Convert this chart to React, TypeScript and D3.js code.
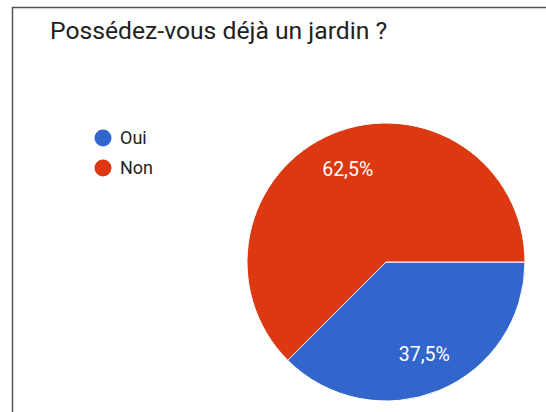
import React, { useEffect, useRef } from 'react';
import * as d3 from 'd3';

const title = 'Possédez-vous déjà un jardin ?';
const categories = ['Oui', 'Non'];
const values = [37.5, 62.5];
const colors = ['#3366cc', '#dc3912'];

const PieChart = () => {
  const ref = useRef<SVGSVGElement>(null);

  useEffect(() => {
    const width = 546;
    const height = 412;
    const cx = 386;
    const cy = 262;
    const radius = 139;

    const svg = d3.select(ref.current);
    svg.selectAll('*').remove();
    svg.attr('width', width).attr('height', height);

    svg.append('rect').attr('width', width).attr('height', height).attr('fill', '#fff');

    // frame (only left and top edges show in the crop)
    svg.append('path')
      .attr('d', `M12.5,${height} V7.5 H${width}`)
      .attr('fill', 'none')
      .attr('stroke', '#555')
      .attr('stroke-width', 1.5);

    svg.append('text')
      .attr('x', 50)
      .attr('y', 39)
      .attr('font-family', 'Roboto')
      .attr('font-size', 24.7)
      .attr('fill', '#212121')
      .text(title);

    const pie = d3.pie<number>()
      .sort(null)
      .startAngle(Math.PI / 2)
      .endAngle(Math.PI / 2 + 2 * Math.PI)
      .value((d) => d);

    const arc: any = d3.arc().innerRadius(0).outerRadius(radius);
    const labelArc: any = d3.arc().innerRadius(radius * 0.72).outerRadius(radius * 0.72);

    const g = svg.append('g').attr('transform', `translate(${cx},${cy})`);
    const arcs = pie(values);

    g.selectAll('path.slice')
      .data(arcs)
      .enter()
      .append('path')
      .attr('class', 'slice')
      .attr('d', arc)
      .attr('fill', (d, i) => colors[i])
      .attr('stroke', '#fff')
      .attr('stroke-width', 1);

    g.selectAll('text.pct')
      .data(arcs)
      .enter()
      .append('text')
      .attr('class', 'pct')
      .attr('transform', (d) => `translate(${labelArc.centroid(d)})`)
      .attr('text-anchor', 'middle')
      .attr('dy', '0.35em')
      .attr('font-family', 'Roboto')
      .attr('font-size', 19.5)
      .attr('fill', '#fff')
      .text((d) => `${d.data.toString().replace('.', ',')}%`);

    const legend = svg.selectAll('g.legend')
      .data(categories)
      .enter()
      .append('g')
      .attr('class', 'legend')
      .attr('transform', (d, i) => `translate(103,${138 + i * 30})`);

    legend.append('circle')
      .attr('r', 8.5)
      .attr('fill', (d, i) => colors[i]);

    legend.append('text')
      .attr('x', 17)
      .attr('dy', '0.35em')
      .attr('font-family', 'Roboto')
      .attr('font-size', 18)
      .attr('fill', '#222')
      .text((d) => d);
  }, []);

  return <svg ref={ref} style={{ position: 'absolute', left: 0, top: 0 }} />;
};

export default function App() {
  return <PieChart />;
}
